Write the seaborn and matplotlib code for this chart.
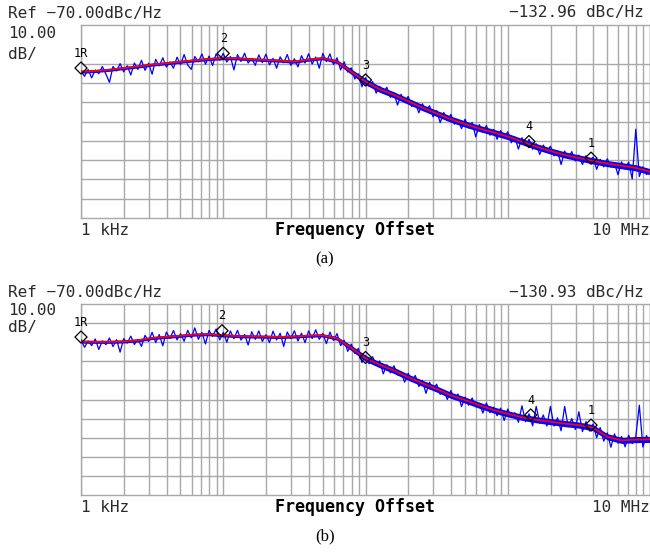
import numpy as np
import pandas as pd
import matplotlib
matplotlib.use("Agg")
import matplotlib.pyplot as plt
import seaborn as sns
from matplotlib.ticker import LogLocator, NullFormatter

# sweep points (log spaced, 1 kHz .. 10 MHz)
freq_smooth = np.logspace(3, 7, 41)
freq_raw = np.logspace(3, 7, 161)

# (a) smoothed trace, dBc/Hz
smooth_a = [-94.2, -93.8, -93.2, -92.3, -91.5, -90.5, -89.8, -89.0, -88.3, -87.6,
            -87.2, -87.3, -87.8, -88.1, -88.5, -89.0, -87.9, -87.2, -89.0, -94.2,
            -99.3, -103.3, -106.2, -109.5, -112.8, -115.8, -118.8, -121.3, -123.6, -125.6,
            -127.8, -130.4, -133.0, -135.3, -137.3, -138.9, -140.4, -141.8, -142.9, -144.0,
            -146.0]

# (a) dense core of the raw trace, dBc/Hz
band_hi_a = [-93.4, -93.0, -92.4, -91.5, -90.7, -89.7, -89.0, -88.2, -87.5, -86.8,
             -86.4, -86.5, -87.0, -87.3, -87.7, -88.2, -87.1, -86.4, -88.0, -92.8,
             -97.7, -101.7, -104.6, -107.9, -111.2, -114.2, -117.2, -119.7, -122.0, -124.0,
             -126.2, -128.8, -131.4, -133.7, -135.7, -137.3, -138.8, -140.2, -141.3, -142.4,
             -144.4]
band_lo_a = [-95.0, -94.6, -94.0, -93.1, -92.3, -91.3, -90.6, -89.8, -89.1, -88.4,
             -88.0, -88.1, -88.6, -88.9, -89.3, -89.8, -88.7, -88.0, -90.0, -95.6,
             -100.9, -104.9, -107.8, -111.1, -114.4, -117.4, -120.4, -122.9, -125.2, -127.2,
             -129.4, -132.0, -134.6, -136.9, -138.9, -140.5, -142.0, -143.4, -144.5, -145.6,
             -147.6]

# (a) raw trace, dBc/Hz
raw_a = [-93.7, -96.6, -93.0, -97.4, -93.3, -95.2, -91.5, -95.4, -99.7, -91.5,
         -93.8, -90.0, -94.3, -91.1, -95.9, -89.7, -93.0, -88.3, -93.5, -89.8,
         -95.5, -87.8, -91.2, -87.0, -91.8, -89.1, -92.4, -86.7, -90.5, -85.3,
         -90.7, -93.0, -86.3, -89.1, -85.0, -90.3, -86.1, -91.0, -84.9, -88.3,
         -84.7, -89.2, -86.3, -93.3, -85.3, -88.9, -84.6, -89.7, -87.3, -90.9,
         -85.5, -89.5, -85.1, -90.7, -87.3, -92.4, -86.5, -89.6, -85.3, -90.9,
         -87.5, -91.7, -85.9, -89.7, -84.9, -90.2, -86.6, -92.4, -84.7, -89.0,
         -85.0, -90.5, -87.0, -93.3, -89.1, -94.4, -92.2, -98.0, -95.3, -102.0,
         -97.3, -101.8, -99.3, -105.3, -101.8, -105.0, -102.3, -107.5, -105.2, -111.5,
         -105.9, -110.2, -107.0, -112.3, -110.2, -115.5, -110.8, -114.6, -111.8, -117.6,
         -114.3, -120.6, -115.3, -119.6, -116.3, -121.4, -119.1, -123.7, -118.8, -123.4,
         -120.5, -128.0, -121.6, -125.6, -122.1, -127.1, -124.1, -129.2, -124.7, -128.3,
         -125.3, -131.0, -128.1, -134.3, -128.4, -132.6, -129.2, -134.4, -131.5, -137.1,
         -132.2, -135.7, -132.8, -137.8, -135.3, -142.3, -135.3, -139.2, -135.6, -140.5,
         -137.4, -142.3, -137.7, -141.5, -138.4, -144.8, -139.6, -143.5, -139.3, -143.6,
         -141.4, -147.6, -140.9, -144.7, -141.0, -149.8, -124.0, -148.5, -143.5, -147.5,
         -145.0]

# (b) smoothed trace, dBc/Hz
smooth_b = [-89.7, -89.8, -89.8, -89.6, -89.0, -87.8, -87.2, -86.6, -86.0, -85.8,
            -86.4, -86.8, -87.0, -87.1, -87.3, -87.0, -86.6, -86.4, -88.0, -93.0,
            -98.4, -101.8, -104.8, -108.3, -111.5, -114.5, -117.8, -120.3, -123.0, -125.5,
            -127.5, -129.3, -130.6, -131.6, -132.6, -133.4, -134.8, -139.5, -141.4, -141.0,
            -140.9]

band_hi_b = [-88.9, -89.0, -89.0, -88.8, -88.2, -87.0, -86.4, -85.8, -85.2, -85.0,
             -85.6, -86.0, -86.2, -86.3, -86.5, -86.2, -85.8, -85.6, -87.0, -91.6,
             -96.8, -100.2, -103.2, -106.7, -109.9, -112.9, -116.2, -118.7, -121.4, -123.9,
             -125.9, -127.7, -129.0, -130.0, -131.0, -131.8, -133.2, -137.9, -139.8, -139.4,
             -139.3]
band_lo_b = [-90.5, -90.6, -90.6, -90.4, -89.8, -88.6, -88.0, -87.4, -86.8, -86.6,
             -87.2, -87.6, -87.8, -87.9, -88.1, -87.8, -87.4, -87.2, -89.0, -94.4,
             -100.0, -103.4, -106.4, -109.9, -113.1, -116.1, -119.4, -121.9, -124.6, -127.1,
             -129.1, -130.9, -132.2, -133.2, -134.2, -135.0, -136.4, -141.1, -143.0, -142.6,
             -142.5]

# (b) raw trace, dBc/Hz
raw_b = [-88.7, -92.7, -89.3, -91.8, -88.3, -93.8, -89.3, -91.3, -87.8, -92.3,
         -88.7, -95.2, -88.1, -90.5, -86.8, -91.2, -88.5, -92.2, -86.4, -89.6,
         -84.8, -90.2, -86.0, -91.9, -84.7, -88.1, -83.9, -88.8, -85.6, -89.5,
         -83.8, -87.7, -82.5, -88.5, -84.9, -90.9, -83.8, -87.0, -83.1, -88.8,
         -84.9, -90.0, -84.1, -88.2, -83.8, -88.9, -85.9, -91.5, -84.5, -88.5,
         -84.1, -89.6, -86.1, -90.2, -84.2, -88.8, -85.3, -92.2, -84.7, -88.1,
         -84.0, -89.4, -85.3, -90.2, -84.1, -88.1, -83.5, -88.5, -85.4, -90.8,
         -84.7, -89.1, -85.5, -91.8, -89.0, -94.8, -91.0, -95.9, -93.2, -100.6,
         -96.9, -101.3, -97.6, -102.0, -99.8, -106.6, -101.8, -106.1, -102.3, -107.2,
         -105.6, -110.9, -106.3, -110.6, -107.4, -113.2, -110.0, -116.8, -111.0, -114.8,
         -112.0, -117.3, -115.2, -120.0, -115.3, -119.9, -117.1, -123.7, -118.8, -123.0,
         -119.2, -123.8, -122.0, -127.1, -121.8, -126.9, -124.0, -128.5, -124.5, -131.0,
         -125.0, -129.5, -126.9, -131.9, -123.3, -131.6, -127.5, -133.8, -123.6, -132.4,
         -128.1, -133.9, -123.6, -133.9, -129.6, -136.4, -123.6, -134.3, -130.0, -135.7,
         -126.4, -136.8, -131.6, -136.5, -132.8, -140.0, -134.7, -141.8, -137.5, -145.0,
         -138.0, -142.9, -139.4, -144.8, -138.7, -143.1, -139.5, -123.0, -144.9, -138.9,
         -142.4]

# markers: label, frequency, level
marker_labels = ["1R", "2", "3", "4", "1"]
marker_freq_a = [1e3, 1e4, 1e5, 1.41e6, 3.85e6]
marker_val_a = [-92.3, -84.7, -98.5, -130.4, -139.0]
marker_freq_b = [1e3, 0.98e4, 1e5, 1.45e6, 3.85e6]
marker_val_b = [-87.3, -84.0, -98.0, -128.1, -133.4]

readout_a = "\u2212132.96 dBc/Hz"
readout_b = "\u2212130.93 dBc/Hz"

sns.set_style("white")
plt.rcParams["font.family"] = ["DejaVu Sans Mono", "DejaVu Sans"]

fig = plt.figure(figsize=(6.5, 5.52), dpi=100)
W, H = 650.0, 552.0
txt_col = "#2a2a2a"
grid_col = "#a8a8a8"


def panel(top, bottom, raw, smooth, hi, lo, mfreq, mval, readout, caption, hlines, txt_y):
    ax = fig.add_axes([81 / W, 1 - bottom / H, 569 / W, (bottom - top) / H])
    df_raw = pd.DataFrame({"f": freq_raw, "dB": raw})
    df_sm = pd.DataFrame({"f": freq_smooth, "dB": smooth})
    ax.fill_between(freq_smooth, lo, hi, color="#0000ff", lw=0, zorder=2.5)
    sns.lineplot(data=df_raw, x="f", y="dB", ax=ax, color="#0000ff", lw=0.9,
                 estimator=None, zorder=3)
    sns.lineplot(data=df_sm, x="f", y="dB", ax=ax, color="#ff0000", lw=1.3,
                 estimator=None, zorder=4)
    sns.scatterplot(x=mfreq, y=mval, ax=ax, marker="D", s=38, facecolor="none",
                    edgecolor="black", linewidth=0.9, zorder=5, legend=False,
                    clip_on=False)
    for lab, f, v in zip(marker_labels, mfreq, mval):
        ax.annotate(lab, (f, v), xytext=(0, 6), textcoords="offset points",
                    ha="center", va="bottom", fontsize=8.5, color="black", zorder=6)
    ax.set_xscale("log")
    ax.set_xlim(1e3, 1e7)
    ax.set_ylim(-170, -70)
    ax.xaxis.set_major_locator(LogLocator(base=10))
    ax.xaxis.set_minor_locator(LogLocator(base=10, subs=np.arange(2, 10)))
    ax.xaxis.set_minor_formatter(NullFormatter())
    ax.set_yticks(hlines)
    ax.grid(True, which="both", color=grid_col, lw=1.0)
    ax.tick_params(which="both", length=0, labelbottom=False, labelleft=False)
    ax.set_xlabel("")
    ax.set_ylabel("")
    for s in ax.spines.values():
        s.set_color(grid_col)
        s.set_linewidth(1.0)
    ax.set_axisbelow(True)

    y_ref, y_scale, y_unit = txt_y
    fig.text(8 / W, 1 - y_ref / H, "Ref \u221270.00dBc/Hz", fontsize=11.5,
             color=txt_col, va="center", ha="left")
    fig.text(8 / W, 1 - y_scale / H, "10.00", fontsize=11.5, color=txt_col,
             va="center", ha="left")
    fig.text(8 / W, 1 - y_unit / H, "dB/", fontsize=11.5, color=txt_col,
             va="center", ha="left")
    fig.text(644 / W, 1 - (top - 12) / H, readout, fontsize=11.5, color=txt_col,
             va="center", ha="right")
    yb = 1 - (bottom + 12) / H
    fig.text(81 / W, yb, "1 kHz", fontsize=11.5, color=txt_col, va="center", ha="left")
    fig.text(355 / W, yb, "Frequency Offset", fontsize=12, fontweight="bold",
             color="black", va="center", ha="center")
    fig.text(650 / W, yb, "10 MHz", fontsize=11.5, color=txt_col, va="center", ha="right")
    fig.text(325 / W, 1 - (bottom + 41) / H, caption, fontsize=12,
             family="Liberation Serif", color="black", va="center", ha="center")
    return ax


panel(25, 218, raw_a, smooth_a, band_hi_a, band_lo_a, marker_freq_a, marker_val_a,
      readout_a, "(a)", [-160, -150, -140, -130, -120, -110, -100, -90], (13.5, 34, 55))
panel(304, 495, raw_b, smooth_b, band_hi_b, band_lo_b, marker_freq_b, marker_val_b,
      readout_b, "(b)", [-160, -150, -140, -130, -120, -110, -100, -90, -80],
      (292, 310.5, 327.5))

fig.savefig("out.png", dpi=100)
